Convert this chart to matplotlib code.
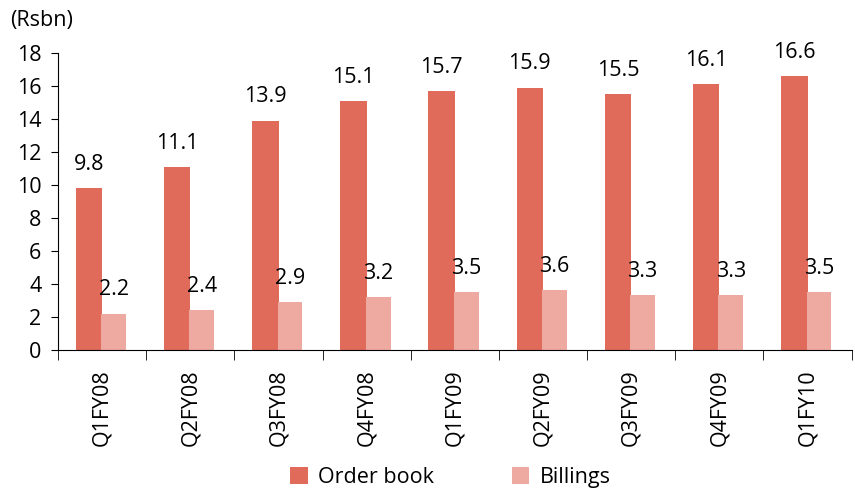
import numpy as np
import matplotlib
matplotlib.use("Agg")
import matplotlib.pyplot as plt

quarters = ["Q1FY08", "Q2FY08", "Q3FY08", "Q4FY08", "Q1FY09",
            "Q2FY09", "Q3FY09", "Q4FY09", "Q1FY10"]
order_book = [9.8, 11.1, 13.9, 15.1, 15.7, 15.9, 15.5, 16.1, 16.6]
billings = [2.2, 2.4, 2.9, 3.2, 3.5, 3.6, 3.3, 3.3, 3.5]

plt.rcParams['font.family'] = ['Open Sans', 'DejaVu Sans']
fs = 15.5

fig = plt.figure(figsize=(8.55, 4.9), dpi=100)
ax = fig.add_axes([0.068, 0.286, 0.928, 0.606])

x = np.arange(len(quarters))
w = 0.3
c_order = '#E06B5A'
c_bill = '#EEAAA0'

b1 = ax.bar(x - w / 2, order_book, w, color=c_order, label='Order book')
b2 = ax.bar(x + w / 2 - 0.02, billings, w - 0.02, color=c_bill, label='Billings')

for xi, v in zip(x, order_book):
    ax.text(xi - w / 2, v + 0.8, f"{v:.1f}", ha='center', va='bottom', fontsize=fs)
for xi, v in zip(x, billings):
    ax.text(xi + w / 2 - 0.02, v + 0.8, f"{v:.1f}", ha='center', va='bottom', fontsize=fs)

ax.set_xlim(-0.5, len(quarters) - 0.5)
ax.set_ylim(0, 18)
ax.set_yticks(range(0, 19, 2))
ax.tick_params(axis='y', labelsize=fs, direction='out', length=5, pad=7)

ax.set_xticks(x)
ax.set_xticklabels(quarters, rotation=90, fontsize=fs)
ax.tick_params(axis='x', length=0, pad=14)
ax.set_xticks(np.arange(-0.5, len(quarters), 1), minor=True)
ax.tick_params(axis='x', which='minor', length=7, direction='out')

for s in ['top', 'right']:
    ax.spines[s].set_visible(False)

fig.text(0.012, 0.958, "(Rsbn)", fontsize=fs, ha='left', va='center')

fig.legend(handles=[b1, b2], loc='lower center', bbox_to_anchor=(0.527, -0.035),
           ncol=2, frameon=False, fontsize=fs, handlelength=0.8,
           handleheight=0.8, handletextpad=0.5, columnspacing=3.6)

fig.savefig("out.png", dpi=100)
